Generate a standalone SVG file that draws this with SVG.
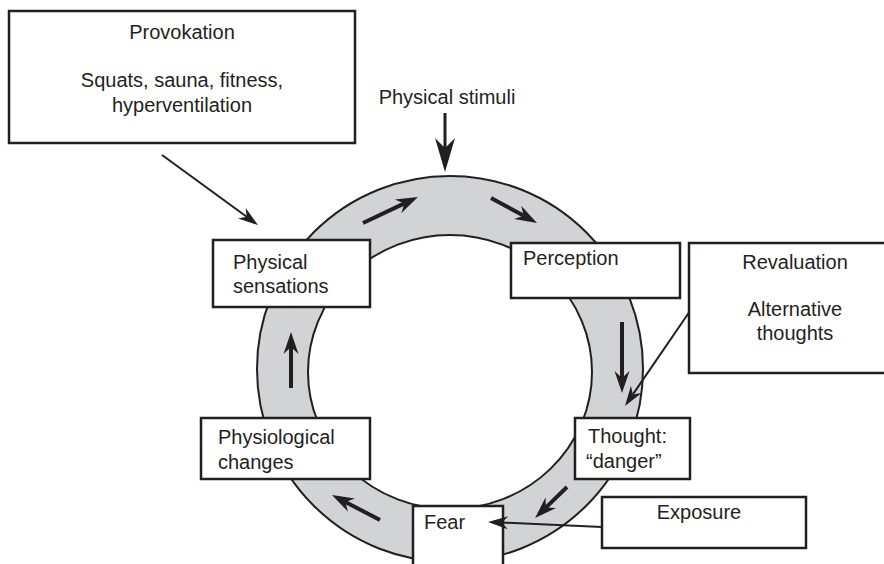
<svg xmlns="http://www.w3.org/2000/svg" width="884" height="564" viewBox="0 0 884 564">
  <style>
    .box { fill: #ffffff; stroke: #231f20; stroke-width: 2.5; }
    .lbl { font-family: "Liberation Sans", Arial, sans-serif; font-size: 20px; fill: #231f20; }
    .mid { text-anchor: middle; }
    .thick { stroke: #231f20; stroke-width: 4; fill: none; marker-end: url(#headThick); }
    .thin { stroke: #231f20; stroke-width: 2; fill: none; marker-end: url(#headThin); }
    .stim { stroke: #231f20; stroke-width: 3; fill: none; marker-end: url(#headBig); }
  </style>
  <defs>
    <!-- notched arrowheads; refX sits at the notch so the shaft ends inside the head -->
    <marker id="headThick" markerUnits="userSpaceOnUse" markerWidth="24" markerHeight="16" refX="7" refY="7.5" orient="auto" overflow="visible">
      <path d="M22,7.5 L0,0 L7,7.5 L0,15 Z" fill="#231f20"/>
    </marker>
    <marker id="headThin" markerUnits="userSpaceOnUse" markerWidth="22" markerHeight="14" refX="6" refY="6.5" orient="auto" overflow="visible">
      <path d="M20,6.5 L0,0 L6,6.5 L0,13 Z" fill="#231f20"/>
    </marker>
    <marker id="headBig" markerUnits="userSpaceOnUse" markerWidth="34" markerHeight="20" refX="10" refY="10" orient="auto" overflow="visible">
      <path d="M34,10 L0,0 L10,10 L0,20 Z" fill="#231f20"/>
    </marker>
  </defs>

  <rect width="884" height="564" fill="#ffffff"/>

  <!-- the cycle ring -->
  <g id="ring">
    <path d="M257,369 A193,193 0 1,0 643,369 A193,193 0 1,0 257,369 Z M308,372 A142,137 0 1,1 592,372 A142,137 0 1,1 308,372 Z"
          fill="#d1d3d4" fill-rule="evenodd" stroke="#231f20" stroke-width="2"/>
  </g>

  <g id="connectors">
    <!-- flow around the ring -->
    <line class="thick" x1="291" y1="388" x2="291" y2="347"/>
    <line class="thick" x1="363" y1="223" x2="404.4" y2="203.4"/>
    <line class="thick" x1="491" y1="198" x2="523.8" y2="215.8"/>
    <line class="thick" x1="622" y1="322" x2="622" y2="378"/>
    <line class="thick" x1="567" y1="487" x2="545.8" y2="507.6"/>
    <line class="thick" x1="380" y1="520" x2="345.3" y2="501.9"/>
    <!-- outside influences -->
    <line class="stim" x1="445" y1="113" x2="445" y2="148"/>
    <line class="thin" x1="162" y1="155" x2="246.7" y2="216.8"/>
    <line class="thin" x1="690" y1="311" x2="632.9" y2="394.4"/>
  </g>

  <g id="provokation">
    <rect class="box" x="9" y="11" width="346" height="132"/>
    <text class="lbl mid" x="182" y="39">Provokation</text>
    <text class="lbl mid" x="182" y="87">Squats, sauna, fitness,</text>
    <text class="lbl mid" x="182" y="112">hyperventilation</text>
  </g>

  <g id="physical-stimuli">
    <text class="lbl mid" x="447" y="104">Physical stimuli</text>
  </g>

  <g id="physical-sensations">
    <rect class="box" x="213" y="240" width="157" height="67"/>
    <text class="lbl" x="233" y="269">Physical</text>
    <text class="lbl" x="233" y="293">sensations</text>
  </g>

  <g id="perception">
    <rect class="box" x="511" y="243" width="169" height="55"/>
    <text class="lbl" x="523" y="265">Perception</text>
  </g>

  <g id="revaluation">
    <rect class="box" x="689" y="243" width="200" height="130"/>
    <text class="lbl mid" x="795" y="269">Revaluation</text>
    <text class="lbl mid" x="795" y="316">Alternative</text>
    <text class="lbl mid" x="795" y="340">thoughts</text>
  </g>

  <g id="thought">
    <rect class="box" x="575" y="418" width="115" height="61"/>
    <text class="lbl" x="588" y="443">Thought:</text>
    <text class="lbl" x="586" y="468">“danger”</text>
  </g>

  <g id="physiological-changes">
    <rect class="box" x="201" y="418" width="169" height="61"/>
    <text class="lbl" x="218" y="444">Physiological</text>
    <text class="lbl" x="218" y="469">changes</text>
  </g>

  <g id="fear">
    <rect class="box" x="413" y="506" width="90" height="70"/>
    <text class="lbl" x="424" y="529">Fear</text>
  </g>

  <g id="exposure">
    <rect class="box" x="602" y="497" width="204" height="51"/>
    <text class="lbl mid" x="699" y="519">Exposure</text>
  </g>

  <g id="connectors-front">
    <line class="thin" x1="602" y1="527" x2="502" y2="522.6"/>
  </g>
</svg>
